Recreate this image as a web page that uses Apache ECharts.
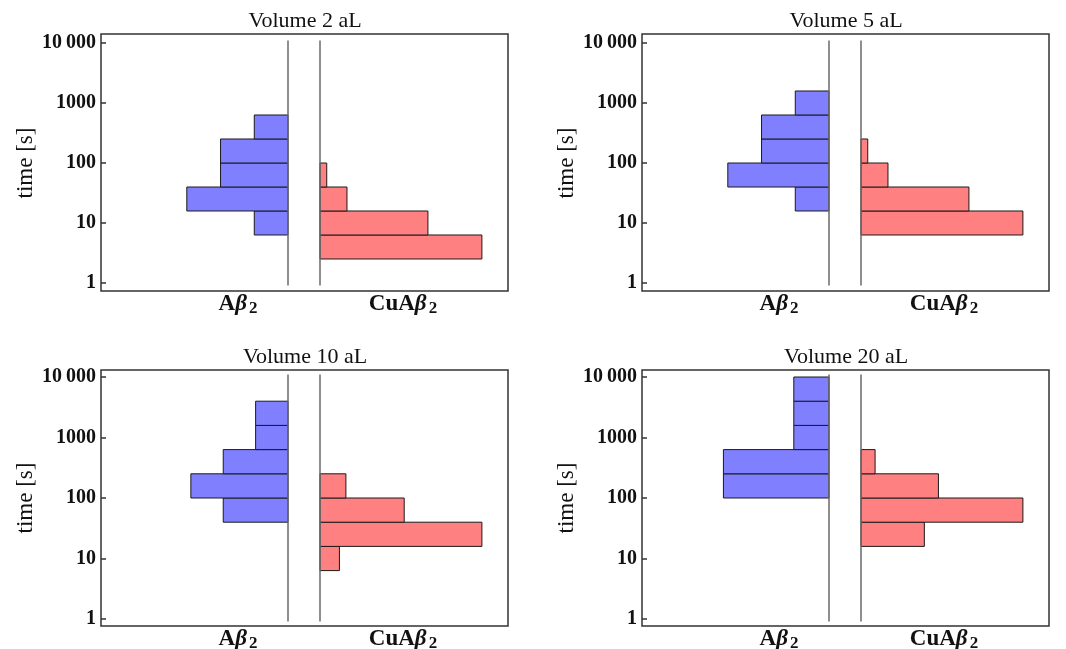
<!DOCTYPE html>
<html>
<head>
    <meta charset="utf-8">
    <title>Aβ2 / CuAβ2 histograms</title>
    <script src="https://cdn.jsdelivr.net/npm/echarts@6/dist/echarts.min.js"></script>
    <style>
        html, body { margin: 0; padding: 0; background: #fff; }
        #main { width: 1066px; height: 649px; }
    </style>
</head>
<body>
<div id="main"></div>
<script type="text/javascript">
// panel titles
var volumes = ['Volume 2 aL', 'Volume 5 aL', 'Volume 10 aL', 'Volume 20 aL'];
// histogram bin edges in seconds (0.4 decade bins)
var binEdges = [1, 2.512, 6.31, 15.85, 39.81, 100, 251.2, 631, 1585, 3981, 10000];
// event counts per bin, one row per volume
var abeta2Counts = [
    [0, 0, 1, 3, 2, 2, 1, 0, 0, 0],
    [0, 0, 0, 1, 3, 2, 2, 1, 0, 0],
    [0, 0, 0, 0, 2, 3, 2, 1, 1, 0],
    [0, 0, 0, 0, 0, 3, 3, 1, 1, 1]
];
var cuAbeta2Counts = [
    [0, 24, 16, 4, 1, 0, 0, 0, 0, 0],
    [0, 0, 24, 16, 4, 1, 0, 0, 0, 0],
    [0, 0, 3, 25, 13, 4, 0, 0, 0, 0],
    [0, 0, 0, 9, 23, 11, 2, 0, 0, 0]
];
var tickLabels = ['1', '10', '100', '1000', '10\u2009000'];

var serif = '"Liberation Serif", "DejaVu Serif", serif';

// [x0, frameTop, tickTop, tickBottom, frameBottom]
var panelPos = [
    [101, 34, 43, 283, 291],
    [642, 34, 43, 283, 291],
    [101, 370, 377, 619, 626],
    [642, 370, 377, 619, 626]
];

function toBars(counts) {
    var total = 0;
    counts.forEach(function (c) { total += c; });
    var out = [];
    for (var j = 0; j < counts.length; j++) {
        if (counts[j] > 0) {
            out.push([Math.log10(binEdges[j]), Math.log10(binEdges[j + 1]), counts[j] / total]);
        }
    }
    return out;
}

function barRenderer(fill) {
    return function (params, api) {
        var p0 = api.coord([0, api.value(0)]);
        var p1 = api.coord([api.value(2), api.value(1)]);
        return {
            type: 'rect',
            shape: {
                x: Math.min(p0[0], p1[0]),
                y: Math.min(p0[1], p1[1]),
                width: Math.abs(p1[0] - p0[0]),
                height: Math.abs(p1[1] - p0[1])
            },
            style: { fill: fill, stroke: '#1a1a1a', lineWidth: 1 }
        };
    };
}

var grids = [], xAxes = [], yAxes = [], series = [], titles = [], graphics = [];

volumes.forEach(function (name, i) {
    var p = panelPos[i];
    var x0 = p[0];
    var blue = toBars(abeta2Counts[i]);
    var red = toBars(cuAbeta2Counts[i]);
    var maxFrac = 0;
    blue.concat(red).forEach(function (d) { maxFrac = Math.max(maxFrac, d[2]); });
    var xMax = maxFrac * 1.155;
    var g = grids.length;

    // frame
    grids.push({ left: x0, top: p[1], width: 407, height: p[4] - p[1], show: true,
        borderColor: '#333', borderWidth: 1.5, backgroundColor: 'transparent' });
    xAxes.push({ gridIndex: g, show: false, min: 0, max: 1 });
    yAxes.push({ gridIndex: g, show: false, min: 0, max: 1 });

    // left half (Aβ2), bars grow to the left
    grids.push({ left: x0, top: p[2], width: 187, height: p[3] - p[2] });
    xAxes.push({ gridIndex: g + 1, type: 'value', min: 0, max: xMax, inverse: true, show: false });
    yAxes.push({
        gridIndex: g + 1, type: 'value', min: 0, max: 4, interval: 1, position: 'left',
        axisLine: { show: false, onZero: false },
        axisTick: { inside: true, length: 5, lineStyle: { color: '#333', width: 1.5 } },
        splitLine: { show: false },
        axisLabel: {
            margin: 5, color: '#111', fontFamily: serif, fontWeight: 'bold', fontSize: 20,
            formatter: function (v) { return tickLabels[Math.round(v)]; }
        },
        name: 'time [s]', nameLocation: 'middle', nameGap: 64, nameRotate: 90,
        nameTextStyle: { fontFamily: serif, fontSize: 23, color: '#111' }
    });

    // right half (CuAβ2)
    grids.push({ left: x0 + 219, top: p[2], width: 187, height: p[3] - p[2] });
    xAxes.push({ gridIndex: g + 2, type: 'value', min: 0, max: xMax, show: false });
    yAxes.push({ gridIndex: g + 2, type: 'value', min: 0, max: 4, show: false });

    series.push({
        type: 'custom', xAxisIndex: g + 1, yAxisIndex: g + 1, data: blue,
        encode: { x: 2, y: [0, 1] }, renderItem: barRenderer('#8080ff'), clip: false
    });
    series.push({
        type: 'custom', xAxisIndex: g + 2, yAxisIndex: g + 2, data: red,
        encode: { x: 2, y: [0, 1] }, renderItem: barRenderer('#ff8080'), clip: false
    });
    // separator lines at zero
    [g + 1, g + 2].forEach(function (k) {
        series.push({
            type: 'line', xAxisIndex: k, yAxisIndex: k, data: [[0, -0.04], [0, 4.04]],
            symbol: 'none', clip: false, silent: true, z: 5,
            lineStyle: { color: '#6a6a6a', width: 1.5 }
        });
    });

    titles.push({
        text: name, left: x0 + 204, top: p[1] - 24, textAlign: 'center', padding: 0,
        textStyle: { fontFamily: serif, fontWeight: 'normal', fontSize: 22, color: '#111' }
    });

    [['Aβ', x0 + 137], ['CuAβ', x0 + 302]].forEach(function (lab) {
        var parts = lab[0].split('β');
        graphics.push({
            type: 'text', x: lab[1], y: p[4] + 13,
            style: {
                text: '{m|' + parts[0] + '}{g|β}{s|2}',
                align: 'center', verticalAlign: 'middle',
                rich: {
                    m: { fontFamily: serif, fontWeight: 'bold', fontSize: 23, fill: '#111' },
                    g: { fontFamily: serif, fontWeight: 'bold', fontStyle: 'italic', fontSize: 23, fill: '#111' },
                    s: { fontFamily: serif, fontWeight: 'bold', fontSize: 17, fill: '#111', padding: [9, 0, 0, 2] }
                }
            }
        });
    });
});

var myChart = echarts.init(document.getElementById('main'));
myChart.setOption({
    animation: false,
    title: titles,
    grid: grids,
    xAxis: xAxes,
    yAxis: yAxes,
    series: series,
    graphic: graphics
});
</script>
</body>
</html>
